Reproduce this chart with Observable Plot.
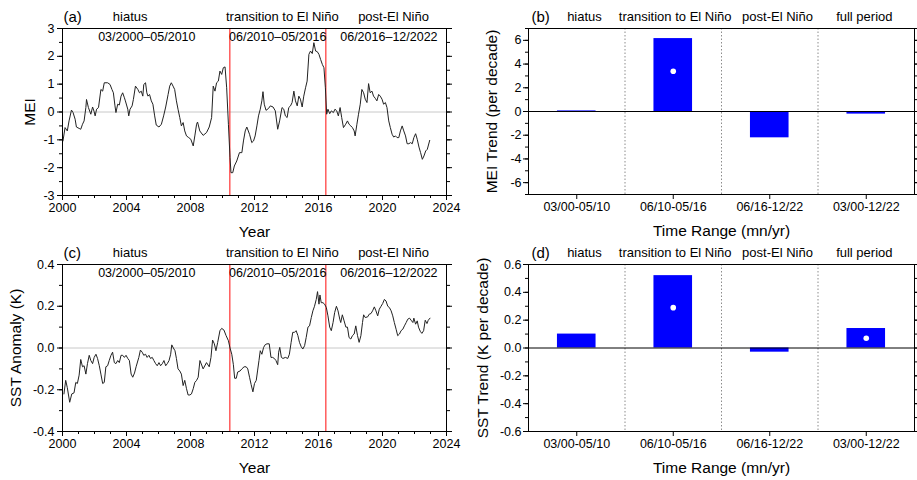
<!DOCTYPE html>
<html>
<head>
<meta charset="utf-8">
<script src="https://cdn.jsdelivr.net/npm/d3@7"></script>
<script src="https://cdn.jsdelivr.net/npm/@observablehq/plot@0.6"></script>
<style>
  body { margin: 0; background: #fff; }
  #chart { position: relative; width: 917px; height: 480px; overflow: hidden;
           font-family: Arial, "Liberation Sans", sans-serif; }
  #chart svg { position: absolute; overflow: visible; }
</style>
</head>
<body>
<div id="chart"></div>
<script>
// ---- Multivariate ENSO index (MEI), decimal year / value ----
const meiYears = [
  2000.03,2000.16,2000.30,2000.41,2000.56,2000.66,2000.79,2000.87,2001.04,2001.14,
  2001.25,2001.35,2001.46,2001.50,2001.62,2001.77,2001.88,2001.98,2002.04,2002.13,
  2002.25,2002.40,2002.51,2002.61,2002.82,2002.97,2003.09,2003.18,2003.28,2003.34,
  2003.45,2003.55,2003.66,2003.76,2003.87,2003.93,2004.08,2004.14,2004.22,2004.35,
  2004.43,2004.56,2004.71,2004.81,2004.92,2005.02,2005.08,2005.19,2005.27,2005.34,
  2005.44,2005.55,2005.65,2005.76,2005.86,2006.03,2006.18,2006.32,2006.45,2006.60,
  2006.70,2006.80,2006.91,2007.01,2007.12,2007.22,2007.33,2007.43,2007.54,2007.64,
  2007.75,2007.89,2008.02,2008.17,2008.27,2008.38,2008.44,2008.58,2008.79,2009.00,
  2009.17,2009.32,2009.42,2009.53,2009.63,2009.74,2009.84,2009.95,2010.05,2010.16,
  2010.26,2010.37,2010.47,2010.53,2010.64,2010.74,2010.89,2011.06,2011.21,2011.31,
  2011.42,2011.52,2011.69,2011.83,2011.94,2012.04,2012.15,2012.25,2012.36,2012.46,
  2012.53,2012.61,2012.72,2012.88,2012.99,2013.16,2013.30,2013.45,2013.57,2013.72,
  2013.83,2013.93,2014.04,2014.14,2014.25,2014.35,2014.46,2014.56,2014.67,2014.77,
  2014.87,2014.98,2015.08,2015.19,2015.29,2015.40,2015.50,2015.61,2015.71,2015.82,
  2015.92,2016.03,2016.13,2016.24,2016.34,2016.43,2016.51,2016.59,2016.70,2016.80,
  2016.93,2017.03,2017.14,2017.24,2017.35,2017.45,2017.56,2017.70,2017.81,2017.91,
  2018.02,2018.12,2018.23,2018.29,2018.40,2018.50,2018.61,2018.71,2018.82,2018.92,
  2019.03,2019.13,2019.23,2019.34,2019.44,2019.55,2019.65,2019.76,2019.86,2019.97,
  2020.07,2020.18,2020.28,2020.39,2020.49,2020.60,2020.70,2020.81,2020.91,2021.02,
  2021.12,2021.23,2021.33,2021.44,2021.54,2021.65,2021.75,2021.86,2021.96,2022.07,
  2022.17,2022.28,2022.38,2022.49,2022.59,2022.70,2022.80,2022.95
];
const meiValues = [
  -1.04,-0.56,-0.68,-0.32,0.07,-0.02,-0.26,-0.54,-0.59,-0.62,
  -0.44,-0.32,0.16,0.45,0.16,-0.08,0.18,0.01,-0.14,0.10,
  0.16,0.81,0.75,1.05,1.05,0.99,0.81,0.69,0.22,-0.02,
  0.28,0.25,0.57,0.69,0.51,0.40,0.10,-0.14,0.10,0.22,
  0.45,0.93,0.81,0.69,0.75,0.57,0.99,1.05,0.69,0.57,
  0.63,0.40,0.28,-0.14,-0.47,-0.54,-0.44,-0.14,0.18,0.63,
  0.93,1.05,0.93,0.81,0.40,0.10,-0.20,-0.50,-0.38,-0.68,
  -0.86,-0.92,-0.98,-1.22,-0.86,-0.44,-0.36,-0.68,-0.84,-0.74,
  -0.54,-0.20,0.93,0.75,1.05,1.11,1.47,1.35,1.59,1.62,
  0.87,-0.44,-1.64,-2.18,-2.18,-1.94,-1.76,-1.46,-1.46,-1.04,
  -0.68,-0.54,-0.80,-1.10,-1.04,-0.86,-0.50,-0.14,0.10,0.40,
  0.73,0.28,0.06,0.13,0.22,0.18,0.04,-0.62,-0.32,0.16,
  0.10,-0.14,-0.20,0.16,0.22,0.34,0.75,0.40,0.22,0.57,
  0.46,0.18,0.57,0.87,1.11,2.07,2.19,2.10,2.49,2.19,
  2.17,2.07,1.89,1.71,1.59,0.87,-0.08,0.10,-0.06,0.04,
  -0.02,0.10,0.04,-0.14,0.16,-0.20,-0.56,-0.44,-0.32,-0.44,
  -0.50,-0.56,-0.68,-0.86,-0.44,-0.08,0.28,0.81,0.69,0.46,
  0.34,1.02,0.69,0.75,0.57,0.49,0.40,0.63,0.57,0.46,
  0.28,0.34,0.16,-0.32,-0.56,-0.80,-0.90,-0.86,-0.92,-0.92,
  -0.68,-0.50,-0.68,-0.86,-1.14,-1.14,-1.10,-1.14,-0.92,-0.78,
  -0.98,-1.26,-1.46,-1.70,-1.58,-1.40,-1.34,-1.02
];

// ---- Sea surface temperature anomaly (K), decimal year / value ----
const sstYears = [
  2000.09,2000.20,2000.30,2000.45,2000.58,2000.72,2000.83,2000.93,2001.04,2001.14,
  2001.25,2001.35,2001.46,2001.56,2001.67,2001.77,2001.88,2001.98,2002.09,2002.19,
  2002.30,2002.40,2002.51,2002.61,2002.71,2002.82,2002.92,2003.03,2003.13,2003.24,
  2003.34,2003.45,2003.55,2003.66,2003.76,2003.87,2003.97,2004.08,2004.18,2004.29,
  2004.39,2004.50,2004.60,2004.77,2004.87,2004.98,2005.08,2005.19,2005.29,2005.40,
  2005.50,2005.61,2005.71,2005.82,2005.92,2006.03,2006.13,2006.24,2006.34,2006.45,
  2006.55,2006.66,2006.76,2006.83,2006.93,2007.03,2007.12,2007.22,2007.33,2007.43,
  2007.54,2007.64,2007.75,2007.85,2007.96,2008.06,2008.17,2008.27,2008.38,2008.48,
  2008.59,2008.79,2009.00,2009.17,2009.28,2009.38,2009.49,2009.59,2009.70,2009.84,
  2009.95,2010.09,2010.22,2010.37,2010.47,2010.58,2010.68,2010.76,2010.86,2010.95,
  2011.10,2011.21,2011.35,2011.48,2011.58,2011.69,2011.79,2011.90,2012.00,2012.11,
  2012.19,2012.28,2012.36,2012.46,2012.57,2012.67,2012.78,2012.92,2013.03,2013.13,
  2013.24,2013.34,2013.45,2013.51,2013.58,2013.68,2013.78,2013.93,2014.08,2014.18,
  2014.29,2014.39,2014.50,2014.60,2014.71,2014.81,2014.92,2015.02,2015.13,2015.23,
  2015.34,2015.44,2015.55,2015.65,2015.75,2015.86,2015.94,2016.03,2016.09,2016.17,
  2016.28,2016.38,2016.49,2016.59,2016.70,2016.80,2016.91,2017.01,2017.12,2017.22,
  2017.33,2017.39,2017.49,2017.60,2017.71,2017.81,2017.91,2018.02,2018.12,2018.23,
  2018.33,2018.44,2018.54,2018.65,2018.75,2018.82,2018.92,2019.07,2019.17,2019.28,
  2019.38,2019.49,2019.59,2019.70,2019.80,2019.91,2020.01,2020.12,2020.22,2020.33,
  2020.43,2020.54,2020.64,2020.74,2020.85,2020.95,2021.06,2021.16,2021.27,2021.37,
  2021.48,2021.58,2021.69,2021.79,2021.90,2021.96,2022.07,2022.17,2022.25,2022.36,
  2022.46,2022.57,2022.67,2022.78,2022.86,2022.97
];
const sstValues = [
  -0.220,-0.155,-0.190,-0.260,-0.220,-0.215,-0.165,-0.170,-0.130,-0.055,
  -0.090,-0.085,-0.125,-0.075,-0.035,-0.060,-0.075,-0.045,-0.030,-0.050,
  -0.085,-0.125,-0.170,-0.165,-0.090,-0.085,-0.060,-0.035,-0.020,-0.070,
  -0.075,-0.060,-0.070,-0.035,-0.035,-0.045,-0.035,-0.050,-0.060,-0.125,
  -0.140,-0.120,-0.090,-0.045,-0.010,-0.020,-0.035,-0.030,-0.045,-0.035,
  -0.050,-0.045,-0.060,-0.075,-0.085,-0.070,-0.085,-0.075,-0.060,-0.085,
  -0.075,-0.060,-0.030,0.015,0.000,-0.013,-0.050,-0.100,-0.110,-0.125,
  -0.180,-0.155,-0.195,-0.225,-0.225,-0.220,-0.195,-0.165,-0.155,-0.140,
  -0.060,-0.100,-0.070,-0.090,-0.045,0.038,0.020,-0.013,0.027,0.083,
  0.094,0.086,0.060,0.035,0.000,-0.030,-0.080,-0.145,-0.145,-0.115,
  -0.110,-0.100,-0.090,-0.090,-0.100,-0.140,-0.175,-0.210,-0.170,-0.155,
  -0.110,-0.060,-0.013,-0.030,0.003,0.016,0.020,0.020,-0.045,-0.045,
  -0.050,-0.060,-0.080,-0.020,0.003,-0.045,-0.050,-0.045,-0.050,-0.030,
  0.027,0.075,0.075,0.083,0.060,0.027,0.006,-0.005,0.011,0.050,
  0.100,0.106,0.146,0.178,0.200,0.233,0.270,0.210,0.254,0.217,
  0.217,0.210,0.194,0.154,0.100,0.083,0.122,0.170,0.200,0.178,
  0.138,0.122,0.159,0.130,0.100,0.100,0.050,0.043,0.059,0.067,
  0.106,0.059,0.027,0.059,0.122,0.159,0.146,0.149,0.162,0.165,
  0.178,0.197,0.178,0.154,0.186,0.200,0.213,0.233,0.225,0.200,
  0.194,0.178,0.154,0.122,0.090,0.059,0.067,0.083,0.090,0.106,
  0.122,0.138,0.143,0.133,0.122,0.143,0.114,0.130,0.100,0.080,
  0.070,0.083,0.133,0.117,0.133,0.143
];

// ---- Phase boundaries and annotations for the time-series panels ----
const phaseBreaks = [2010 + 5.5 / 12, 2016 + 5.5 / 12];
const phaseNames = ["hiatus", "transition to El Niño", "post-El Niño"];
const phaseNameYears = [2004.23, 2013.74, 2020.69];
const phaseRanges = ["03/2000\u201305/2010", "06/2010\u201305/2016", "06/2016\u201312/2022"];
const phaseRangeYears = [2005.27, 2013.45, 2020.4];
const yearTicks = [2000, 2004, 2008, 2012, 2016, 2020, 2024];

// ---- Trend bars (per decade) ----
const trendPeriods = ["hiatus", "transition to El Niño", "post-El Niño", "full period"];
const trendRanges = ["03/00-05/10", "06/10-05/16", "06/16-12/22", "03/00-12/22"];
const meiTrend = [0.05, 6.15, -2.22, -0.22];
const meiTrendMarker = [null, 3.4, null, null];
const sstTrend = [0.10, 0.52, -0.03, 0.14];
const sstTrendMarker = [null, 0.29, null, 0.07];

// ---- Axis tick values and labels ----
const meiTicks = [-3, -2, -1, 0, 1, 2, 3];
const meiTickLabels = ["-3", "-2", "-1", "0", "1", "2", "3"];
const sstTicks = [-0.4, -0.2, 0, 0.2, 0.4];
const sstTickLabels = ["-0.4", "-0.2", "0.0", "0.2", "0.4"];
const meiTrendTicks = [-6, -4, -2, 0, 2, 4, 6];
const meiTrendTickLabels = ["-6", "-4", "-2", "0", "2", "4", "6"];
const sstTrendTicks = [-0.6, -0.4, -0.2, 0, 0.2, 0.4, 0.6];
const sstTrendTickLabels = ["-0.6", "-0.4", "-0.2", "0.0", "0.2", "0.4", "0.6"];

const FONT = 'Arial, "Liberation Sans", sans-serif';
const chart = document.getElementById("chart");
const blank = () => "";
const labelFrom = (ticks, labels) => d => labels[ticks.findIndex(t => Math.abs(t - d) < 1e-9)];

function place(svg, left, top) {
  svg.style.left = left + "px";
  svg.style.top = top + "px";
  chart.appendChild(svg);
}

function seriesPanel({years, values, yDomain, ticks, tickLabels, minorStep, letter, yTitle, yTitleDx, marginTop, marginBottom, top}) {
  const rows = years.map((x, i) => ({year: x, value: values[i]}));
  const yMinor = d3.range(yDomain[0], yDomain[1] + minorStep / 2, minorStep);
  const xMinor = d3.range(2000, 2025, 1);
  const svg = Plot.plot({
    width: 458, height: 240,
    marginLeft: 62, marginRight: 12, marginTop, marginBottom,
    style: {fontFamily: FONT, fontSize: "12.5px", color: "#000", background: "transparent"},
    x: {domain: [2000, 2024], label: null},
    y: {domain: yDomain, label: null},
    marks: [
      Plot.ruleY([0], {stroke: "#c8c8c8"}),
      Plot.ruleX(phaseBreaks, {stroke: "#f33", strokeWidth: 1.2}),
      Plot.line(rows, {x: "year", y: "value", stroke: "#222", strokeWidth: 1}),
      Plot.frame({stroke: "#000"}),
      Plot.axisX(yearTicks, {tickSize: 5, tickPadding: 3, tickFormat: d => String(d), label: null}),
      Plot.axisX(xMinor, {tickSize: 3, tickFormat: blank, label: null}),
      Plot.axisY(ticks, {anchor: "left", tickSize: 5, tickPadding: 3, tickFormat: labelFrom(ticks, tickLabels), label: null}),
      Plot.axisY(yMinor, {anchor: "left", tickSize: 3, tickFormat: blank, label: null}),
      Plot.axisY(ticks, {anchor: "right", tickSize: 5, tickFormat: blank, label: null}),
      Plot.axisY(yMinor, {anchor: "right", tickSize: 3, tickFormat: blank, label: null}),
      Plot.text([letter], {frameAnchor: "top-left", textAnchor: "start", lineAnchor: "middle", dx: 1, dy: -11.5, fontSize: 15}),
      Plot.text(phaseNames, {x: phaseNameYears, frameAnchor: "top", lineAnchor: "middle", dy: -11.5, fontSize: 13}),
      Plot.text(phaseRanges, {x: phaseRangeYears, frameAnchor: "top", lineAnchor: "middle", dy: 8.5, fontSize: 12.5}),
      Plot.text([yTitle], {frameAnchor: "left", textAnchor: "middle", lineAnchor: "middle", rotate: -90, dx: yTitleDx, fontSize: 15.5}),
      Plot.text(["Year"], {frameAnchor: "bottom", lineAnchor: "middle", dy: 37, fontSize: 15.5})
    ]
  });
  place(svg, 0, top);
}

function trendPanel({values, markers, yDomain, ticks, tickLabels, minorStep, letter, yTitle, yTitleDx, marginTop, marginBottom, top}) {
  const rows = values.map((v, i) => ({pos: i + 1, value: v, marker: markers[i]}));
  const yMinor = d3.range(yDomain[0], yDomain[1] + minorStep / 2, minorStep);
  const positions = trendPeriods.map((_, i) => i + 1);
  const svg = Plot.plot({
    width: 459, height: 240,
    marginLeft: 70, marginRight: 3, marginTop, marginBottom,
    style: {fontFamily: FONT, fontSize: "12.5px", color: "#000", background: "transparent"},
    x: {domain: [0.5, 4.5], label: null},
    y: {domain: yDomain, label: null},
    marks: [
      Plot.ruleX(positions.slice(1).map(p => p - 0.5), {stroke: "#8c8c8c", strokeDasharray: "1.5,2"}),
      Plot.rect(rows, {x1: d => d.pos - 0.2, x2: d => d.pos + 0.2, y1: () => 0, y2: "value", fill: "#0000ff"}),
      Plot.ruleY([0], {stroke: "#000"}),
      Plot.dot(rows.filter(d => d.marker != null), {x: "pos", y: "marker", r: 2.8, fill: "#fff", stroke: "none"}),
      Plot.frame({stroke: "#000"}),
      Plot.axisX(positions, {tickSize: 5, tickPadding: 3, tickFormat: d => trendRanges[d - 1], label: null}),
      Plot.axisY(ticks, {anchor: "left", tickSize: 5, tickPadding: 2, tickFormat: labelFrom(ticks, tickLabels), label: null}),
      Plot.axisY(yMinor, {anchor: "left", tickSize: 3, tickFormat: blank, label: null}),
      Plot.axisY(ticks, {anchor: "right", tickSize: 5, tickFormat: blank, label: null}),
      Plot.axisY(yMinor, {anchor: "right", tickSize: 3, tickFormat: blank, label: null}),
      Plot.text([letter], {frameAnchor: "top-left", textAnchor: "start", lineAnchor: "middle", dx: 3, dy: -11.5, fontSize: 15}),
      Plot.text(trendPeriods, {x: [1.08, 2.02, 3.08, 3.98], frameAnchor: "top", lineAnchor: "middle", dy: -11.5, fontSize: 13}),
      Plot.text([yTitle], {frameAnchor: "left", textAnchor: "middle", lineAnchor: "middle", rotate: -90, dx: yTitleDx, fontSize: 15.5}),
      Plot.text(["Time Range (mn/yr)"], {frameAnchor: "bottom", lineAnchor: "middle", dy: 37, fontSize: 15.5})
    ]
  });
  place(svg, 458, top);
}

seriesPanel({
  years: meiYears, values: meiValues, yDomain: [-3, 3],
  ticks: meiTicks, tickLabels: meiTickLabels, minorStep: 0.5,
  letter: "(a)", yTitle: "MEI", yTitleDx: -32,
  marginTop: 28, marginBottom: 45, top: 0
});
trendPanel({
  values: meiTrend, markers: meiTrendMarker, yDomain: [-7, 7],
  ticks: meiTrendTicks, tickLabels: meiTrendTickLabels, minorStep: 1,
  letter: "(b)", yTitle: "MEI Trend (per decade)", yTitleDx: -36,
  marginTop: 28, marginBottom: 46, top: 0
});
seriesPanel({
  years: sstYears, values: sstValues, yDomain: [-0.4, 0.4],
  ticks: sstTicks, tickLabels: sstTickLabels, minorStep: 0.1,
  letter: "(c)", yTitle: "SST Anomaly (K)", yTitleDx: -46,
  marginTop: 24, marginBottom: 49, top: 240
});
trendPanel({
  values: sstTrend, markers: sstTrendMarker, yDomain: [-0.6, 0.6],
  ticks: sstTrendTicks, tickLabels: sstTrendTickLabels, minorStep: 0.1,
  letter: "(d)", yTitle: "SST Trend (K per decade)", yTitleDx: -45,
  marginTop: 24, marginBottom: 49, top: 240
});
</script>
</body>
</html>
